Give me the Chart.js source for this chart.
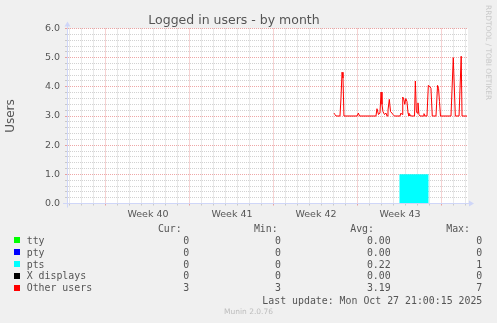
<!DOCTYPE html>
<html>
<head>
<meta charset="utf-8">
<script src="https://cdn.jsdelivr.net/npm/chart.js@4/dist/chart.umd.min.js"></script>
<style>
html,body{margin:0;padding:0;background:#f0f0f0;}
#wrap{position:relative;width:497px;height:323px;overflow:hidden;background:#f0f0f0;}
#c{position:absolute;left:0;top:0;}
.t{position:absolute;white-space:pre;font-family:"DejaVu Sans Mono",monospace;font-size:9.9px;line-height:12px;color:#555;}
.sq{position:absolute;width:6px;height:6px;}
.side{position:absolute;left:491.8px;top:5px;font-family:"DejaVu Sans",sans-serif;font-size:7.4px;line-height:8.9px;color:#c8c8c8;white-space:nowrap;transform-origin:0 0;transform:rotate(90deg);}
.ver{position:absolute;left:0;width:497px;top:307px;text-align:center;font-family:"DejaVu Sans",sans-serif;font-size:7.5px;line-height:10px;color:#bdbdbd;}
</style>
</head>
<body>
<div id="wrap">
<canvas id="c" width="497" height="323"></canvas>
<div class="side">RRDTOOL / TOBI OETIKER</div>
<div id="legend"></div>
<div class="ver">Munin 2.0.76</div>
</div>
<script>
// ---- data (x = days since start of Week 40) ----
const weekLabels = ["Week 40", "Week 41", "Week 42", "Week 43"];
const weekLabelPos = [3.5, 10.5, 17.5, 24.5];

const otherX = [19.0, 19.08, 19.17, 19.5, 19.58, 19.67, 19.75, 19.83, 20.92, 21.03, 21.13,
  22.5, 22.58, 22.71, 22.83, 22.92, 23.0, 23.08, 23.21, 23.33, 23.42, 23.5, 23.61, 23.71, 23.83, 23.92, 24.04,
  24.5, 24.58, 24.67, 24.73, 24.83, 24.9, 24.98, 25.08, 25.17, 25.25, 25.33, 25.42,
  25.71, 25.78, 25.86, 25.92, 26.0, 26.08, 26.17, 26.42, 26.5, 26.58, 26.75, 26.86, 27.0, 27.08, 27.19,
  27.5, 27.63, 27.71, 27.79, 27.875, 28.75, 28.94, 29.11, 29.42, 29.6, 29.67, 30.08];
const otherY = [3.1, 3.05, 3.0, 3.0, 3.6, 4.5, 4.3, 3.0, 3.0, 3.1, 3.0,
  3.0, 3.25, 3.05, 3.1, 3.82, 3.4, 3.15, 3.05, 3.1, 3.0, 3.2, 3.57, 3.15, 3.1, 3.05, 3.0,
  3.0, 3.1, 3.05, 3.65, 3.55, 3.4, 3.6, 3.5, 3.1, 3.0, 3.05, 3.0,
  3.0, 4.2, 3.2, 3.1, 3.45, 3.05, 3.0, 3.0, 3.08, 3.0, 3.0, 4.05, 4.0, 3.95, 3.0,
  3.0, 4.05, 3.95, 3.5, 3.0, 3.0, 5.0, 3.0, 3.0, 5.05, 3.0, 3.0];

const ptsX = [24.44, 26.89];
const ptsY = [1, 1];

const legendNames = ["tty", "pty", "pts", "X displays", "Other users"];
const legendCur = ["0", "0", "0", "0", "3"];
const legendMin = ["0", "0", "0", "0", "3"];
const legendAvg = ["0.00", "0.00", "0.22", "0.00", "3.19"];
const legendMax = ["0", "0", "1", "0", "7"];
const legendColors = ["#00ff00", "#0000ff", "#00ffff", "#000000", "#ff0000"];
const lastUpdate = "Last update: Mon Oct 27 21:00:15 2025";

// ---- legend (html text) ----
(function () {
  const L = document.getElementById('legend');
  function add(txt, left, right, top) {
    const d = document.createElement('div');
    d.className = 't';
    d.textContent = txt;
    d.style.top = top + 'px';
    if (right != null) { d.style.right = (497 - right) + 'px'; d.style.textAlign = 'right'; }
    else d.style.left = left + 'px';
    L.appendChild(d);
  }
  const asc = 8.0;
  const hdrBase = 231;
  add("Cur:", null, 181.7, hdrBase - asc);
  add("Min:", null, 277.7, hdrBase - asc);
  add("Avg:", null, 374, hdrBase - asc);
  add("Max:", null, 470, hdrBase - asc);
  legendNames.forEach((n, i) => {
    const base = 242.7 + 11.9 * i;
    const sq = document.createElement('div');
    sq.className = 'sq';
    sq.style.left = '14px';
    sq.style.top = (base - 5.5) + 'px';
    sq.style.background = legendColors[i];
    L.appendChild(sq);
    add(n, 26.7, null, base - asc);
    add(legendCur[i], null, 189.3, base - asc);
    add(legendMin[i], null, 281, base - asc);
    add(legendAvg[i], null, 390.7, base - asc);
    add(legendMax[i], null, 482.3, base - asc);
  });
  add(lastUpdate, null, 482.3, 302.5 - asc);
})();

// ---- chart ----
const MAJOR = 'rgba(222,79,79,0.5)';
const MINOR = 'rgba(143,143,143,0.4)';
const AXIS = '#CFD6F8';

const bgPlugin = {
  id: 'bg',
  beforeDraw(chart) {
    const { ctx, chartArea: a } = chart;
    ctx.save();
    ctx.fillStyle = '#f0f0f0';
    ctx.fillRect(0, 0, chart.width, chart.height);
    ctx.fillStyle = '#ffffff';
    ctx.fillRect(a.left, a.top, a.right - a.left, a.bottom - a.top);
    ctx.restore();
  },
  afterDraw(chart) {
    const { ctx, chartArea: a } = chart;
    const x0 = Math.round(a.left) + 0.5, y0 = Math.round(a.bottom) - 0.5;
    ctx.save();
    ctx.strokeStyle = AXIS; ctx.fillStyle = AXIS; ctx.lineWidth = 1;
    ctx.beginPath();
    ctx.moveTo(a.left - 4, y0); ctx.lineTo(a.right + 2, y0);
    ctx.moveTo(x0, a.bottom + 4); ctx.lineTo(x0, a.top - 3);
    ctx.stroke();
    ctx.beginPath();
    ctx.moveTo(a.right + 6, y0); ctx.lineTo(a.right + 1, y0 - 3); ctx.lineTo(a.right + 1, y0 + 3); ctx.closePath();
    ctx.fill();
    ctx.beginPath();
    ctx.moveTo(x0, a.top - 7); ctx.lineTo(x0 - 3, a.top - 2); ctx.lineTo(x0 + 3, a.top - 2); ctx.closePath();
    ctx.fill();
    ctx.restore();
  }
};

Chart.defaults.font.family = "'DejaVu Sans', sans-serif";
Chart.defaults.color = '#555';

const isInt = v => Math.abs(v - Math.round(v)) < 1e-9;

new Chart(document.getElementById('c'), {
  type: 'line',
  data: {
    datasets: [
      {
        label: 'pts',
        data: ptsX.map((x, i) => ({ x, y: ptsY[i] })),
        borderColor: '#00ffff',
        backgroundColor: '#00ffff',
        borderWidth: 0,
        pointRadius: 0,
        fill: 'origin',
        tension: 0
      },
      {
        label: 'Other users',
        data: otherX.map((x, i) => ({ x, y: otherY[i] })),
        borderColor: '#ff0000',
        borderWidth: 1,
        pointRadius: 0,
        fill: false,
        tension: 0
      }
    ]
  },
  options: {
    responsive: false,
    animation: false,
    devicePixelRatio: 1,
    layout: { padding: { left: 0, right: 29, top: 0, bottom: 0 } },
    plugins: {
      legend: { display: false },
      tooltip: { enabled: false },
      title: {
        display: true,
        text: 'Logged in users - by month',
        color: '#555',
        font: { size: 12.5, weight: 'normal' },
        padding: { top: 13, bottom: 0.5 }
      }
    },
    scales: {
      x: {
        type: 'linear',
        min: -3.25,
        max: 30.167,
        afterFit: s => { s.height = 119.5; },
        afterBuildTicks: s => {
          const t = [];
          for (let d = -3; d <= 30; d++) t.push({ value: d });
          weekLabelPos.forEach(v => t.push({ value: v }));
          t.sort((a, b) => a.value - b.value);
          s.ticks = t;
        },
        ticks: {
          autoSkip: false,
          maxRotation: 0,
          minRotation: 0,
          padding: 3,
          color: '#555',
          font: { size: 9.5 },
          callback: v => { const i = weekLabelPos.indexOf(v); return i >= 0 ? weekLabels[i] : ''; }
        },
        grid: {
          drawTicks: true,
          tickLength: 2,
          lineWidth: 1,
          color: c => {
            const v = c.tick ? c.tick.value : null;
            if (v == null || weekLabelPos.includes(v)) return 'rgba(0,0,0,0)';
            return (v % 7 === 0) ? MAJOR : MINOR;
          },
          tickColor: c => {
            const v = c.tick ? c.tick.value : null;
            if (v == null || weekLabelPos.includes(v)) return 'rgba(0,0,0,0)';
            return (v % 7 === 0) ? MAJOR : MINOR;
          }
        },
        border: { display: true, color: AXIS, width: 1, dash: [1, 1] }
      },
      y: {
        min: 0,
        max: 6,
        afterFit: s => { s.width = 67; },
        title: {
          display: true,
          text: 'Users',
          color: '#555',
          font: { size: 12, weight: 'normal' },
          padding: { top: 4, bottom: 0 }
        },
        ticks: {
          stepSize: 0.2,
          autoSkip: false,
          padding: 5,
          color: '#555',
          font: { size: 9.5 },
          callback: v => isInt(v) ? Number(v).toFixed(1) : ''
        },
        grid: {
          drawTicks: true,
          tickLength: 2,
          lineWidth: 1,
          color: c => (c.tick && isInt(c.tick.value)) ? MAJOR : MINOR,
          tickColor: c => (c.tick && isInt(c.tick.value)) ? MAJOR : MINOR
        },
        border: { display: true, color: AXIS, width: 1, dash: [1, 1] }
      }
    }
  },
  plugins: [bgPlugin]
});
</script>
</body>
</html>
